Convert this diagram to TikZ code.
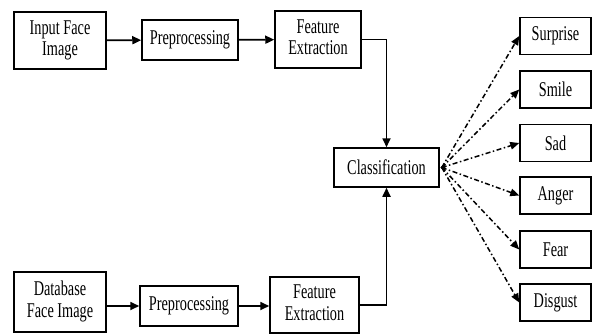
\documentclass[tikz,border=0pt]{standalone}
\usepackage{graphicx}
\usepackage{fontspec}
\setmainfont{Liberation Serif}
\usetikzlibrary{arrows.meta}
\newcommand{\sq}[1]{\scalebox{0.68}[1]{#1}}
\newcommand{\sqq}[2]{\scalebox{0.68}[1]{\begin{tabular}{@{}c@{}}#1\\#2\end{tabular}}}
\begin{document}
\begin{tikzpicture}[x=1pt,y=-1pt,
  box/.style={draw, line width=1.5pt, inner sep=0pt, font=\fontsize{21}{21.5}\selectfont, align=center},
  emo/.style={box, minimum width=71pt, minimum height=37pt},
  arr/.style={-{Triangle[length=9pt,width=8pt]}, line width=1.7pt},
  dd/.style={-{Triangle[length=9pt,width=7.5pt]}, line width=1.5pt, dash pattern=on 5pt off 2.5pt on 1.5pt off 2.5pt}]
\useasboundingbox (0,0) rectangle (593,334);
\node[box, minimum width=92pt, minimum height=57pt] (in1) at (60,40.5) {\sqq{Input Face}{Image}};
\node[box, minimum width=96pt, minimum height=40pt] (pre1) at (190,40) {\sq{Preprocessing}};
\node[box, minimum width=86pt, minimum height=57pt] (fe1) at (318,39.5) {\sqq{Feature}{Extraction}};
\node[box, minimum width=105pt, minimum height=39pt] (cls) at (386.5,167.5) {\sq{Classification}};
\node[box, minimum width=92pt, minimum height=60pt] (db) at (60,302) {\sqq{Database}{Face Image}};
\node[box, minimum width=98pt, minimum height=40pt] (pre2) at (189,306) {\sq{Preprocessing}};
\node[box, minimum width=89pt, minimum height=56pt] (fe2) at (314.5,305) {\sqq{Feature}{Extraction}};
\node[emo] (e1) at (555.5,36) {\sq{Surprise}};
\node[emo] (e2) at (555.5,89.5) {\sq{Smile}};
\node[emo] (e3) at (555.5,143) {\sq{Sad}};
\node[emo] (e4) at (555.5,195.5) {\sq{Anger}};
\node[emo] (e5) at (555.5,249.5) {\sq{Fear}};
\node[emo] (e6) at (555.5,302.5) {\sq{Disgust}};
\draw[arr] (in1) -- (pre1);
\draw[arr] (pre1) -- (fe1);
\draw[arr] (fe1.east) -| (cls.north);
\draw[arr] (db.east |- pre2) -- (pre2);
\draw[arr] (pre2) -- (fe2.west |- pre2);
\draw[arr] (fe2.east) -| (cls.south);
\foreach \e in {e1,e2,e3,e4,e5,e6} {
  \draw[dd] ([xshift=2pt]cls.east) -- (\e.west);
}
\fill ([xshift=0.5pt]cls.east) -- ++(5,-3.5) -- ++(0,7) -- cycle;
\end{tikzpicture}
\end{document}
